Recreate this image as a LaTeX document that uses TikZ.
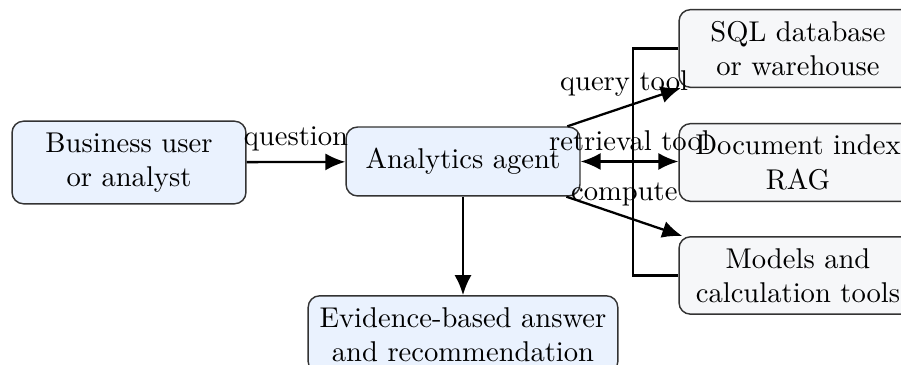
\documentclass[tikz,border=0pt]{standalone}
\usetikzlibrary{arrows.meta}
\definecolor{bluefill}{HTML}{EAF2FE}
\definecolor{grayfill}{HTML}{F6F7F9}
\definecolor{edgecol}{HTML}{333333}
\begin{document}
\begin{tikzpicture}[x=0.3497pt,y=-0.3497pt,
  box/.style={draw=edgecol, line width=0.5pt, rounded corners=4pt, align=center,
    minimum width=81.8pt, minimum height=24.1pt, inner sep=4pt},
  bluebox/.style={box, fill=bluefill},
  graybox/.style={box, fill=grayfill, minimum width=83.2pt},
  arr/.style={line width=0.8pt, -{Latex[length=7pt,width=6pt]}},
  darr/.style={line width=0.8pt, {Latex[length=7pt,width=6pt]}-{Latex[length=7pt,width=6pt]}},
  lbl/.style={midway, above}]
\useasboundingbox (0,0) rectangle (901,365);
\node[bluebox] (user) at (129,162.5) {Business user\\or analyst};
\node[bluebox] (agent) at (463,161.5) {Analytics agent};
\node[bluebox] (answer) at (463,334.5) {Evidence-based answer\\and recommendation};
\node[graybox] (sql) at (798,48.5) {SQL database\\or warehouse};
\node[graybox] (doc) at (798,162.5) {Document index\\RAG};
\node[graybox] (models) at (798,275.5) {Models and\\calculation tools};
\coordinate (brk) at (633,160);
\draw[line width=0.8pt] (sql.west) -- (sql.west -| brk) |- (models.west);
\draw[arr] (user) -- node[lbl] {question} (agent);
\draw[arr] (agent) -- node[lbl] {query tool} (sql);
\draw[darr] (agent.east) -- node[lbl] {retrieval tool} (doc.west |- agent.east);
\draw[arr] (agent) -- node[lbl] {compute} (models);
\draw[arr] (agent) -- (answer);
\end{tikzpicture}
\end{document}
